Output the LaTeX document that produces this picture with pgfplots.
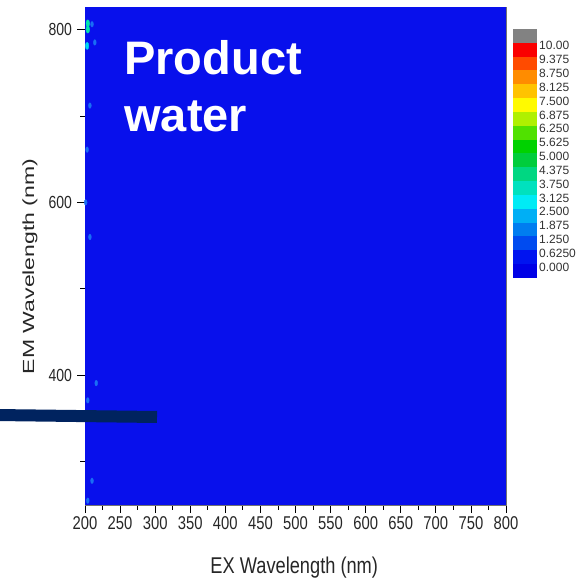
\documentclass[border=0pt]{standalone}
\usepackage{fontspec}
\setmainfont{Liberation Sans}[FakeStretch=0.8]
\newfontfamily\plainsans{Liberation Sans}
\usepackage{pgfplots}
\pgfplotsset{compat=1.18}

\definecolor{bgblue}{RGB}{8,16,236}
\definecolor{navyline}{RGB}{0,35,95}
\definecolor{spotA}{RGB}{0,230,170}
\definecolor{spotB}{RGB}{0,215,240}
\definecolor{spotC}{RGB}{25,110,245}
\definecolor{cb0}{RGB}{0,0,230}
\definecolor{cb1}{RGB}{0,20,240}
\definecolor{cb2}{RGB}{0,75,240}
\definecolor{cb3}{RGB}{0,125,240}
\definecolor{cb4}{RGB}{0,175,245}
\definecolor{cb5}{RGB}{0,235,245}
\definecolor{cb6}{RGB}{0,225,190}
\definecolor{cb7}{RGB}{0,215,130}
\definecolor{cb8}{RGB}{0,205,60}
\definecolor{cb9}{RGB}{0,210,0}
\definecolor{cb10}{RGB}{80,225,0}
\definecolor{cb11}{RGB}{175,240,0}
\definecolor{cb12}{RGB}{255,250,0}
\definecolor{cb13}{RGB}{255,195,0}
\definecolor{cb14}{RGB}{255,140,0}
\definecolor{cb15}{RGB}{255,75,0}
\definecolor{cb16}{RGB}{250,0,0}
\definecolor{cb17}{RGB}{130,130,130}

\begin{document}
\begin{tikzpicture}
\useasboundingbox (-85pt,-73pt) rectangle (492pt,505pt);
\begin{axis}[
  name=main, at={(0pt,0pt)}, anchor=south west,
  scale only axis, width=421pt, height=498pt,
  xmin=200, xmax=800, ymin=250, ymax=826,
  xtick={200,250,...,800}, minor x tick num=1,
  ytick={400,600,800}, minor ytick={300,500,700},
  tick align=outside, xtick pos=bottom, ytick pos=left,
  major tick length=7.5pt, minor tick length=4.5pt,
  tick style={black, line width=0.8pt},
  axis line style={black!55, line width=0.6pt},
  xticklabel style={font=\fontsize{18.5}{19}\selectfont, text=black!85, yshift=-1pt},
  yticklabel style={font=\fontsize{17.5}{18}\selectfont, text=black!85, xshift=-2pt},
  /pgf/number format/assume math mode=true,
  xlabel={EX Wavelength (nm)},
  xlabel style={font=\fontsize{22.8}{24}\selectfont, text=black!85, at={(axis description cs:0.497,-0.1366)}, anchor=base},
  ylabel={\plainsans\fontsize{23}{25}\selectfont\scalebox{1}[0.7]{EM Wavelength (nm)}},
  ylabel style={text=black!85, at={(axis description cs:-0.1211,0.479)}, anchor=base, rotate=0},
  clip=true,
]
\addplot[fill=bgblue, draw=none] coordinates {(200,826) (800,826)} \closedcycle;
\addplot[only marks, mark=*, color=spotC, mark size=2pt, mark options={xscale=0.7, yscale=1.4}] coordinates {
 (210,806) (214,785) (207,712) (203,661) (207,560) (216,391) (204,371) (210,278) (204,255) (201,600)
};
\addplot[only marks, mark=*, color=spotB, mark size=2.4pt, mark options={xscale=0.7, yscale=1.5}] coordinates {
 (203,781)
};
\addplot[only marks, mark=*, color=spotA, mark size=2.6pt, mark options={xscale=0.7, yscale=1.4}] coordinates {
 (204,807) (204,800)
};
\node[anchor=base west, text=white, font=\plainsans\bfseries\fontsize{47}{48}\selectfont, inner sep=0pt] at (axis description cs:0.093,0.8635) {Product};
\node[anchor=base west, text=white, font=\plainsans\bfseries\fontsize{47}{48}\selectfont, inner sep=0pt] at (axis description cs:0.093,0.749) {water};
\end{axis}

\begin{axis}[
  at={(428pt,227pt)}, anchor=south west,
  scale only axis, width=24pt, height=249pt,
  xmin=0, xmax=1, ymin=0, ymax=18,
  xtick=\empty, ytick={1,...,17},
  yticklabels={0.000,0.6250,1.250,1.875,2.500,3.125,3.750,4.375,5.000,5.625,6.250,6.875,7.500,8.125,8.750,9.375,10.00},
  yticklabel pos=right, major tick length=0pt,
  yticklabel style={font=\plainsans\fontsize{12}{12}\selectfont, text=black!80, anchor=west, inner sep=0pt, xshift=2pt, yshift=-3pt},
  axis line style={draw=none},
  clip=true,
]
\addplot[fill=cb17, draw=none] coordinates {(0,18) (1,18)} \closedcycle;
\addplot[fill=cb16, draw=none] coordinates {(0,17) (1,17)} \closedcycle;
\addplot[fill=cb15, draw=none] coordinates {(0,16) (1,16)} \closedcycle;
\addplot[fill=cb14, draw=none] coordinates {(0,15) (1,15)} \closedcycle;
\addplot[fill=cb13, draw=none] coordinates {(0,14) (1,14)} \closedcycle;
\addplot[fill=cb12, draw=none] coordinates {(0,13) (1,13)} \closedcycle;
\addplot[fill=cb11, draw=none] coordinates {(0,12) (1,12)} \closedcycle;
\addplot[fill=cb10, draw=none] coordinates {(0,11) (1,11)} \closedcycle;
\addplot[fill=cb9, draw=none] coordinates {(0,10) (1,10)} \closedcycle;
\addplot[fill=cb8, draw=none] coordinates {(0,9) (1,9)} \closedcycle;
\addplot[fill=cb7, draw=none] coordinates {(0,8) (1,8)} \closedcycle;
\addplot[fill=cb6, draw=none] coordinates {(0,7) (1,7)} \closedcycle;
\addplot[fill=cb5, draw=none] coordinates {(0,6) (1,6)} \closedcycle;
\addplot[fill=cb4, draw=none] coordinates {(0,5) (1,5)} \closedcycle;
\addplot[fill=cb3, draw=none] coordinates {(0,4) (1,4)} \closedcycle;
\addplot[fill=cb2, draw=none] coordinates {(0,3) (1,3)} \closedcycle;
\addplot[fill=cb1, draw=none] coordinates {(0,2) (1,2)} \closedcycle;
\addplot[fill=cb0, draw=none] coordinates {(0,1) (1,1)} \closedcycle;
\end{axis}

\draw[navyline, line width=12pt] (-90pt,90pt) -- (72pt,88pt);
\end{tikzpicture}
\end{document}
